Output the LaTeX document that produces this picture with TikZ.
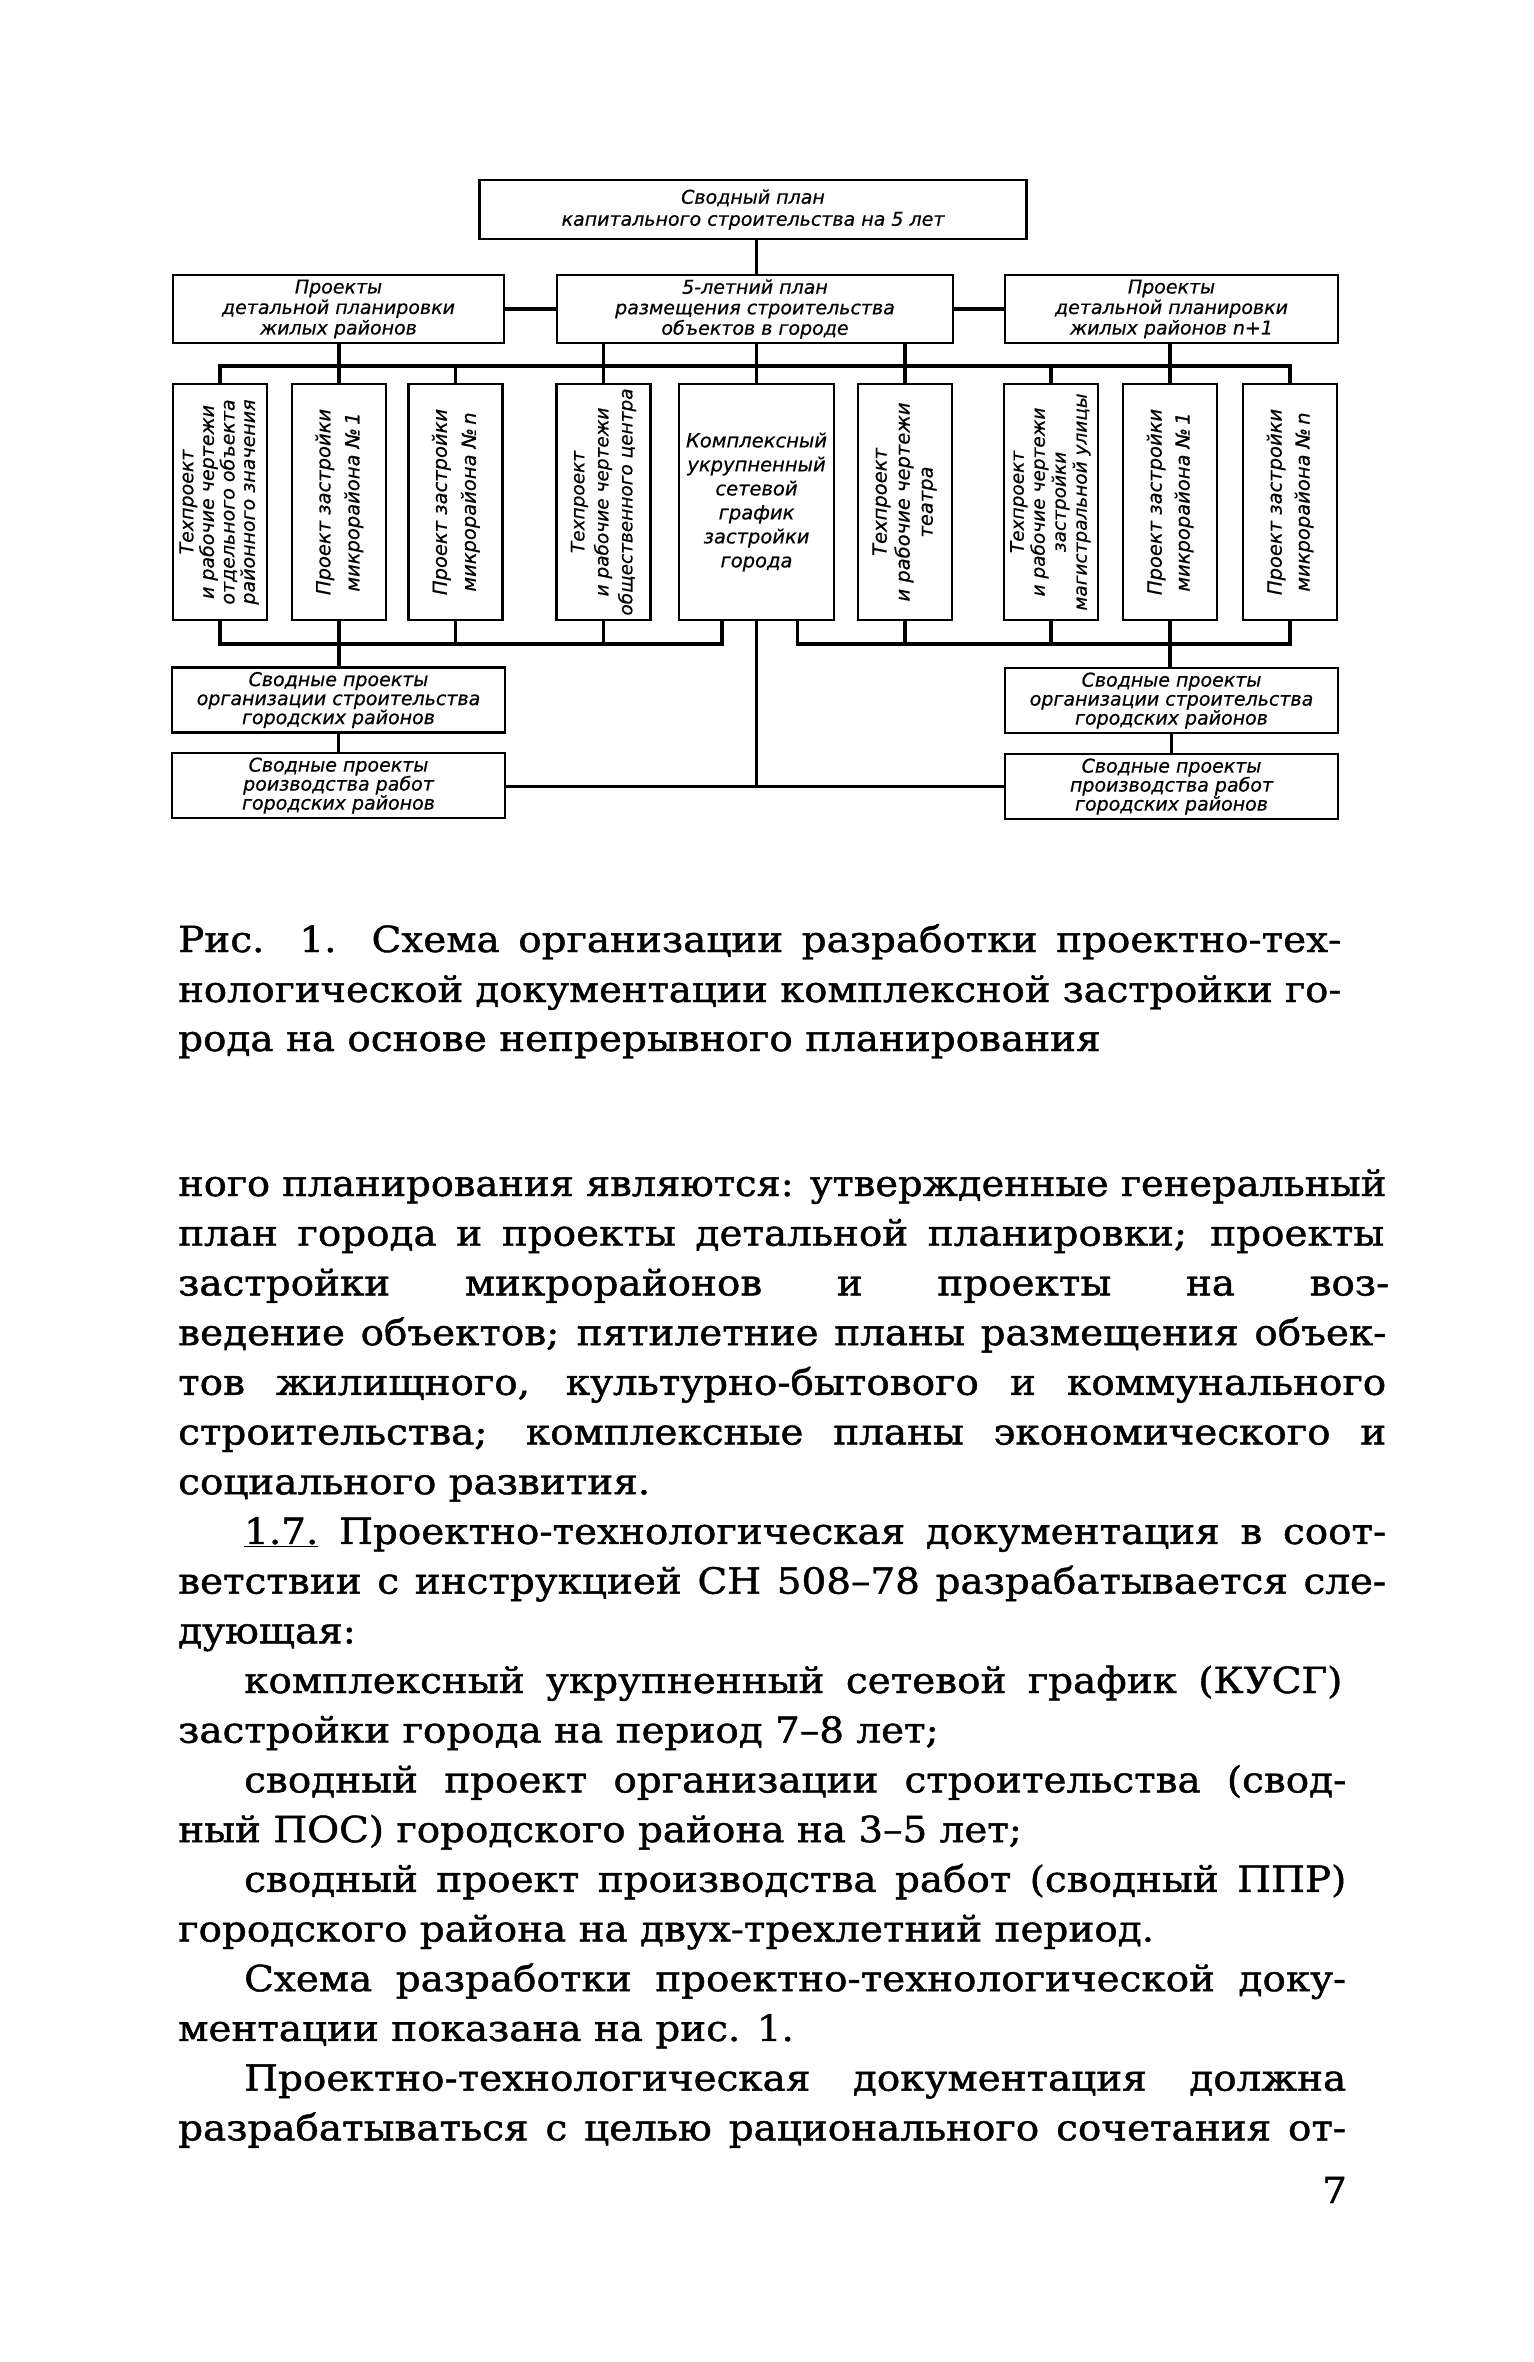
\documentclass[tikz,border=0pt]{standalone}
\usepackage{fontspec}
\newfontfamily\diagfont[FakeBold=0.6]{DejaVu Sans}
\newfontfamily\bodyfont[FakeStretch=1.08,FakeBold=1.2]{DejaVu Serif}
\usetikzlibrary{calc}
\newcommand\myvtext[3]{\rotatebox{90}{\fontsize{#1}{#2}\selectfont\begin{tabular}{@{}c@{}}#3\end{tabular}}}
\newcommand\jline[2]{\setbox0=\hbox{#2}\ifdim\wd0>#1\relax\resizebox{#1}{\height}{#2}\else\makebox[#1][s]{#2}\fi}
\tikzset{
  box/.style={draw, line width=2.6pt, inner sep=0pt, align=center,
    font={\diagfont\itshape\fontsize{19}{20.5}\selectfont}},
  vbox/.style={draw, line width=2.6pt, inner sep=0pt, minimum width=94pt, minimum height=236pt},
  vtext/.style={inner sep=0pt, font={\diagfont\itshape}},
  wbox/.style={box, minimum width=333pt, minimum height=65pt},
  conn/.style={line width=3.4pt},
  bodyline/.style={anchor=base west, inner sep=0pt, font={\bodyfont\fontsize{36}{50}\selectfont}}
}
\begin{document}
\begin{tikzpicture}[x=1pt,y=-1pt]
\fill[white] (0,0) rectangle (1534,2362);
\useasboundingbox (0,0) rectangle (1534,2362);

% top
\node[box, minimum width=547pt, minimum height=59pt, font={\diagfont\itshape\fontsize{19}{22}\selectfont}] (T) at (753,209.5)
  {Сводный план\\капитального строительства на 5 лет};
% row 2
\node[box, minimum width=331pt, minimum height=68pt] (L) at (338.5,309)
  {Проекты\\детальной планировки\\жилых районов};
\node[box, minimum width=396pt, minimum height=68pt] (M) at (755,309)
  {5-летний план\\размещения строительства\\объектов в городе};
\node[box, minimum width=333pt, minimum height=68pt] (R) at (1171.5,309)
  {Проекты\\детальной планировки\\жилых районов n+1};

% vertical boxes
\node[vbox] (v1) at (220,502) {};
\node[vbox] (v2) at (339,502) {};
\node[vbox] (v3) at (455.5,502) {};
\node[vbox] (v4) at (603.5,502) {};
\node[box, minimum width=155pt, minimum height=236pt, font={\diagfont\itshape\fontsize{19.5}{24}\selectfont}] (v5) at (756.5,502)
  {Комплексный\\укрупненный\\сетевой\\график\\застройки\\города};
\node[vbox] (v6) at (905,502) {};
\node[vbox] (v7) at (1051,502) {};
\node[vbox] (v8) at (1170,502) {};
\node[vbox] (v9) at (1290,502) {};

\node[vtext] (t1) at (v1) {\myvtext{19}{19.5}{Техпроект\\и рабочие чертежи\\отдельного объекта\\районного значения}};
\node[vtext] (t2) at (v2) {\myvtext{19.5}{29}{Проект застройки\\микрорайона №\,1}};
\node[vtext] (t3) at (v3) {\myvtext{19.5}{29}{Проект застройки\\микрорайона №\,n}};
\node[vtext] (t4) at (v4) {\myvtext{18.5}{24}{Техпроект\\и рабочие чертежи\\общественного центра}};
\node[vtext] (t6) at (v6) {\myvtext{19.5}{23}{Техпроект\\и рабочие чертежи\\театра}};
\node[vtext] (t7) at (v7) {\myvtext{18.5}{21}{Техпроект\\и рабочие чертежи\\застройки\\магистральной улицы}};
\node[vtext] (t8) at (v8) {\myvtext{19.5}{28}{Проект застройки\\микрорайона №\,1}};
\node[vtext] (t9) at (v9) {\myvtext{19.5}{28}{Проект застройки\\микрорайона №\,n}};

% lower boxes
\node[wbox, font={\diagfont\itshape\fontsize{19}{19}\selectfont}] (A) at (338.5,700)
  {Сводные проекты\\организации строительства\\городских районов};
\node[wbox, font={\diagfont\itshape\fontsize{19}{19}\selectfont}] (B) at (338.5,785.5)
  {Сводные проекты\\роизводства работ\\городских районов};
\node[wbox, font={\diagfont\itshape\fontsize{19}{19}\selectfont}] (A2) at (1171.5,700.5)
  {Сводные проекты\\организации строительства\\городских районов};
\node[wbox, font={\diagfont\itshape\fontsize{19}{19}\selectfont}] (B2) at (1171.5,786.5)
  {Сводные проекты\\производства работ\\городских районов};

% coordinates
\coordinate (busT) at (700,366);
\coordinate (busBL) at (400,644);
\coordinate (busBR) at (1100,644);
\coordinate (f5L) at ($(v5.south west)!0.28!(v5.south east)$);
\coordinate (f5R) at ($(v5.south west)!0.76!(v5.south east)$);

% connectors
\draw[conn] (T.south -| v5.north) -- (M.north -| v5.north);
\draw[conn] (L.east) -- (M.west);
\draw[conn] (M.east) -- (R.west);
\draw[conn] (v1.north) |- (busT) -| (v9.north);
\draw[conn] (L.south -| v2.north) -- (v2.north);
\draw[conn] (v3.north) -- (v3.north |- busT);
\draw[conn] (M.south -| v4.north) -- (v4.north);
\draw[conn] (M.south -| v5.north) -- (v5.north);
\draw[conn] (M.south -| v6.north) -- (v6.north);
\draw[conn] (v7.north) -- (v7.north |- busT);
\draw[conn] (R.south -| v8.north) -- (v8.north);

\draw[conn] (v1.south) |- (busBL) -| (f5L);
\draw[conn] (v3.south) -- (v3.south |- busBL);
\draw[conn] (v4.south) -- (v4.south |- busBL);
\draw[conn] (v2.south) -- (v2.south |- A.north);
\draw[conn] (f5R) |- (busBR) -| (v9.south);
\draw[conn] (v6.south) -- (v6.south |- busBR);
\draw[conn] (v7.south) -- (v7.south |- busBR);
\draw[conn] (v8.south) -- (v8.south |- A2.north);
\draw[conn] (v5.south) -- (v5.south |- B2.west);
\draw[conn] (B.east |- B2.west) -- (B2.west);
\draw[conn] (A.south) -- (B.north);
\draw[conn] (A2.south) -- (B2.north);

% caption
\node[bodyline] (c1) at (178,952) {\jline{1163pt}{Рис. 1. Схема организации разработки проектно-тех-}};
\node[bodyline] (c2) at (178,1002) {\jline{1163pt}{нологической документации комплексной застройки го-}};
\node[bodyline] (c3) at (178,1051) {рода на основе непрерывного планирования};

% body
\node[bodyline] (b1) at (178,1196) {\jline{1208pt}{ного планирования являются: утвержденные генеральный}};
\node[bodyline] (b2) at (178,1245.7) {\jline{1206pt}{план города и проекты детальной планировки; проекты}};
\node[bodyline] (b3) at (178,1295.4) {\jline{1211pt}{застройки микрорайонов и проекты на воз-}};
\node[bodyline] (b4) at (178,1345.1) {\jline{1208pt}{ведение объектов; пятилетние планы размещения объек-}};
\node[bodyline] (b5) at (178,1394.8) {\jline{1208pt}{тов жилищного, культурно-бытового и коммунального}};
\node[bodyline] (b6) at (178,1444.5) {\jline{1208pt}{строительства; комплексные планы экономического и}};
\node[bodyline] (b7) at (178,1494.2) {социального развития.};
\node[bodyline] (b8) at (244,1543.9) {\jline{1142pt}{\underline{1.7.} Проектно-технологическая документация в соот-}};
\node[bodyline] (b9) at (178,1593.6) {\jline{1208pt}{ветствии с инструкцией СН 508–78 разрабатывается сле-}};
\node[bodyline] (b10) at (178,1643.3) {дующая:};
\node[bodyline] (b11) at (244,1693) {\jline{1098pt}{комплексный укрупненный сетевой график (КУСГ)}};
\node[bodyline] (b12) at (178,1742.7) {застройки города на период 7–8 лет;};
\node[bodyline] (b13) at (244,1792.4) {\jline{1102pt}{сводный проект организации строительства (свод-}};
\node[bodyline] (b14) at (178,1842.1) {ный ПОС) городского района на 3–5 лет;};
\node[bodyline] (b15) at (244,1891.8) {\jline{1102pt}{сводный проект производства работ (сводный ППР)}};
\node[bodyline] (b16) at (178,1941.5) {городского района на двух-трехлетний период.};
\node[bodyline] (b17) at (244,1991.2) {\jline{1102pt}{Схема разработки проектно-технологической доку-}};
\node[bodyline] (b18) at (178,2040.9) {ментации показана на рис. 1.};
\node[bodyline] (b19) at (244,2090.6) {\jline{1102pt}{Проектно-технологическая документация должна}};
\node[bodyline] (b20) at (178,2140.3) {\jline{1168pt}{разрабатываться с целью рационального сочетания от-}};
\node[bodyline] (pg) at (1322,2203) {7};
\end{tikzpicture}
\end{document}
